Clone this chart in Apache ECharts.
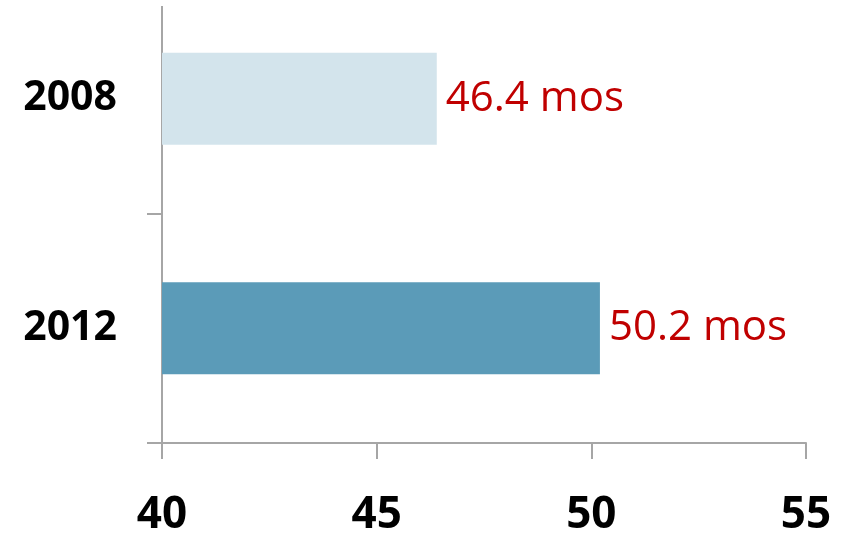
<!DOCTYPE html>
<html>
<head>
<meta charset="utf-8">
<script src="https://cdn.jsdelivr.net/npm/echarts@6/dist/echarts.min.js"></script>
<style>
  html, body { margin: 0; padding: 0; background: #fff; }
  #chart { width: 848px; height: 536px; }
</style>
</head>
<body>
<div id="chart"></div>
<script>
// Median duration (months), by survey year
const years = ['2008', '2012'];
const months = [46.4, 50.2];
const barColors = ['#D3E4EC', '#5B9BB8'];
const xTicks = [40, 45, 50, 55];

const chart = echarts.init(document.getElementById('chart'), null, { renderer: 'canvas' });

const axisGrey = '#A6A6A6';

chart.setOption({
  animation: false,
  grid: {
    left: 162, right: 42, top: -16, bottom: 93,
    containLabel: false,
    outerBoundsMode: 'none'
  },
  xAxis: {
    type: 'value',
    min: xTicks[0],
    max: xTicks[xTicks.length - 1],
    interval: 5,
    splitLine: { show: false },
    axisLine: { show: true, lineStyle: { color: axisGrey, width: 2 } },
    axisTick: { show: true, length: 16, lineStyle: { color: axisGrey, width: 2 } },
    axisLabel: {
      margin: 50,
      color: '#000',
      fontFamily: 'Open Sans',
      fontWeight: 'bold',
      fontSize: 44
    }
  },
  yAxis: {
    type: 'category',
    inverse: true,
    data: years,
    axisLine: { show: true, lineStyle: { color: axisGrey, width: 2 } },
    axisTick: { show: true, length: 15, lineStyle: { color: axisGrey, width: 2 } },
    axisLabel: {
      margin: 45,
      color: '#000',
      fontFamily: 'Open Sans',
      fontWeight: 'bold',
      fontSize: 41
    }
  },
  series: [{
    type: 'bar',
    barWidth: '40%',
    data: months.map((v, i) => ({ value: v, itemStyle: { color: barColors[i] } })),
    label: {
      show: true,
      position: 'right',
      distance: 9,
      color: '#C00000',
      fontFamily: 'Open Sans',
      fontSize: 42,
      formatter: p => p.value + ' mos'
    }
  }],
  graphic: [{
    type: 'rect',
    shape: { x: 150, y: 0, width: 20, height: 6 },
    style: { fill: '#fff' },
    z: 100
  }]
});
</script>
</body>
</html>
